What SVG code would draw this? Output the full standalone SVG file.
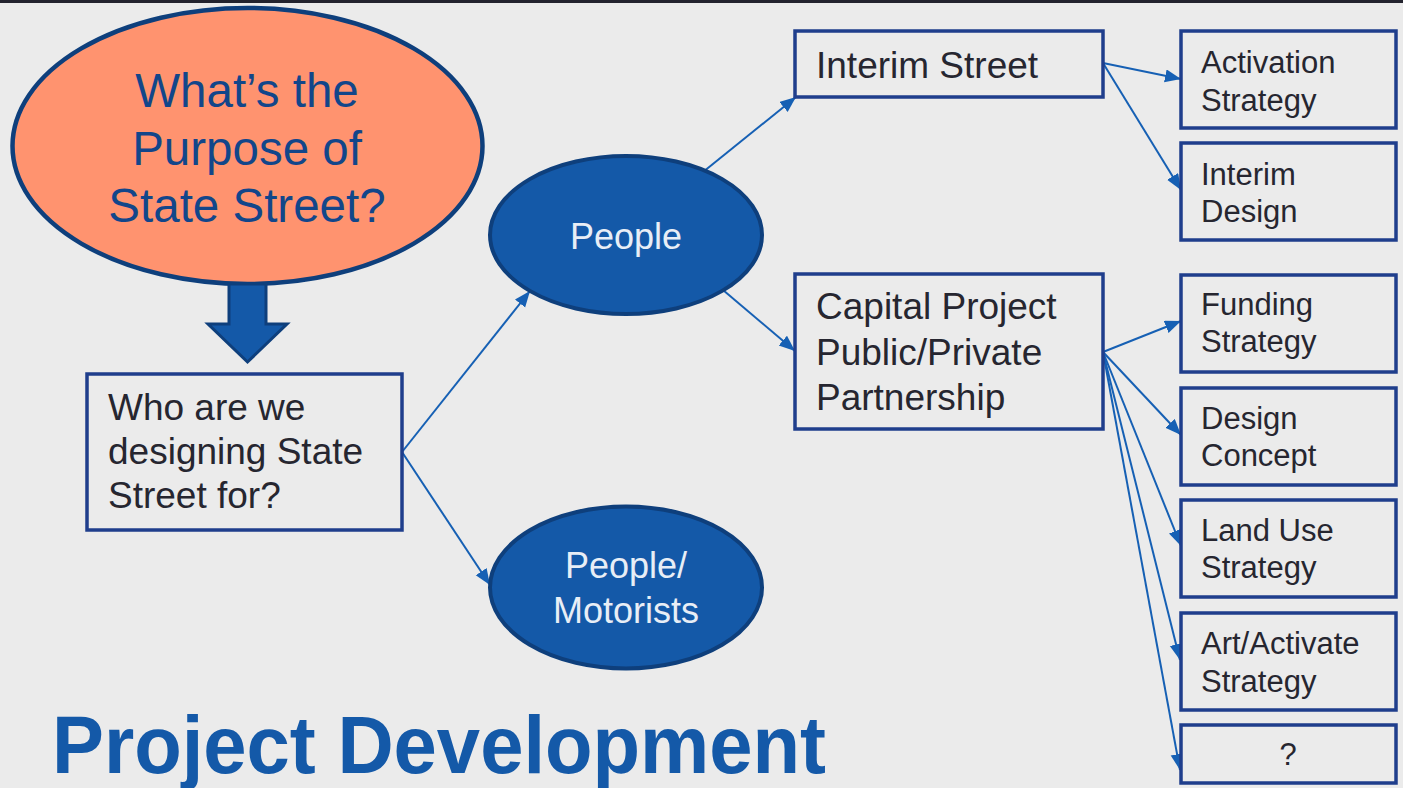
<svg xmlns="http://www.w3.org/2000/svg" width="1403" height="788" viewBox="0 0 1403 788">
<defs>
<style>
.box{fill:#ebebeb;stroke:#1f3e8c;stroke-width:3.5}
.bt{font-family:"Liberation Sans",Arial,sans-serif;fill:#262630}
.big{font-size:37px}
.sm{font-size:31px}
.bell{fill:#1459a8;stroke:#0e3f7c;stroke-width:4}
.wt{font-family:"Liberation Sans",Arial,sans-serif;font-size:36px;fill:#e8eef6;text-anchor:middle}
.con{fill:none;stroke:#1660b4;stroke-width:2;marker-end:url(#ah)}
</style>
<marker id="ah" markerUnits="userSpaceOnUse" markerWidth="17" markerHeight="14" refX="16" refY="6.5" orient="auto">
<path d="M0,0 L16,6.5 L0,13 z" fill="#1660b4"/>
</marker>
</defs>
<rect x="0" y="0" width="1403" height="788" fill="#ebebeb"/>
<rect x="0" y="0" width="1403" height="3" fill="#23232e"/>

<g id="connectors">
<line class="con" x1="402" y1="452" x2="530" y2="291"/>
<line class="con" x1="402" y1="452" x2="490" y2="585"/>
<line class="con" x1="703" y1="172" x2="796" y2="97"/>
<line class="con" x1="723" y1="290" x2="795" y2="351"/>
<line class="con" x1="1103" y1="63" x2="1181" y2="79"/>
<line class="con" x1="1103" y1="63" x2="1181" y2="190"/>
<line class="con" x1="1103" y1="352" x2="1181" y2="321"/>
<line class="con" x1="1103" y1="352" x2="1181" y2="435"/>
<line class="con" x1="1103" y1="352" x2="1181" y2="546"/>
<line class="con" x1="1103" y1="352" x2="1180" y2="660"/>
<line class="con" x1="1103" y1="352" x2="1180" y2="770"/>
</g>

<g id="purpose">
<ellipse cx="247.5" cy="146" rx="235" ry="138" fill="#ff936f" stroke="#0e3f7c" stroke-width="4.5"/>
<g font-family="Liberation Sans, Arial, sans-serif" font-size="47.5" fill="#12468a" text-anchor="middle">
<text x="247" y="107">What’s the</text>
<text x="247" y="165">Purpose of</text>
<text x="247" y="222">State Street?</text>
</g>
</g>

<g id="block-arrow">
<polygon points="229,284 266,284 266,324 287,324 247.5,362 208,324 229,324" fill="#1459a8" stroke="#0e3f7c" stroke-width="3" stroke-linejoin="miter"/>
</g>

<g id="who">
<rect class="box" x="87" y="374" width="315" height="156"/>
<text class="bt big" x="108" y="420">Who are we</text>
<text class="bt big" x="108" y="464">designing State</text>
<text class="bt big" x="108" y="508">Street for?</text>
</g>

<g id="people">
<ellipse class="bell" cx="626" cy="235" rx="136" ry="79"/>
<text class="wt" x="626" y="249">People</text>
</g>

<g id="people-motorists">
<ellipse class="bell" cx="626" cy="587.5" rx="136" ry="81"/>
<text class="wt" x="626" y="578">People/</text>
<text class="wt" x="626" y="623">Motorists</text>
</g>

<g id="interim-street">
<rect class="box" x="795" y="31" width="308" height="66"/>
<text class="bt big" x="816" y="78">Interim Street</text>
</g>

<g id="capital-project">
<rect class="box" x="795" y="274" width="308" height="155"/>
<text class="bt big" x="816" y="319">Capital Project</text>
<text class="bt big" x="816" y="365">Public/Private</text>
<text class="bt big" x="816" y="410">Partnership</text>
</g>

<g id="activation-strategy">
<rect class="box" x="1181" y="31" width="215" height="97"/>
<text class="bt sm" x="1201" y="73">Activation</text>
<text class="bt sm" x="1201" y="111">Strategy</text>
</g>

<g id="interim-design">
<rect class="box" x="1181" y="143" width="215" height="97"/>
<text class="bt sm" x="1201" y="185">Interim</text>
<text class="bt sm" x="1201" y="222">Design</text>
</g>

<g id="funding-strategy">
<rect class="box" x="1181" y="275" width="215" height="97"/>
<text class="bt sm" x="1201" y="315">Funding</text>
<text class="bt sm" x="1201" y="352">Strategy</text>
</g>

<g id="design-concept">
<rect class="box" x="1181" y="388" width="215" height="97"/>
<text class="bt sm" x="1201" y="429">Design</text>
<text class="bt sm" x="1201" y="466">Concept</text>
</g>

<g id="land-use-strategy">
<rect class="box" x="1181" y="500" width="215" height="97"/>
<text class="bt sm" x="1201" y="541">Land Use</text>
<text class="bt sm" x="1201" y="578">Strategy</text>
</g>

<g id="art-activate-strategy">
<rect class="box" x="1181" y="613" width="215" height="97"/>
<text class="bt sm" x="1201" y="654">Art/Activate</text>
<text class="bt sm" x="1201" y="692">Strategy</text>
</g>

<g id="unknown">
<rect class="box" x="1181" y="725" width="215" height="58"/>
<text class="bt sm" x="1288" y="765" text-anchor="middle">?</text>
</g>

<text x="52" y="773" font-family="Liberation Sans, Arial, sans-serif" font-weight="bold" font-size="81" fill="#1459a8" textLength="774" lengthAdjust="spacingAndGlyphs">Project Development</text>
</svg>
